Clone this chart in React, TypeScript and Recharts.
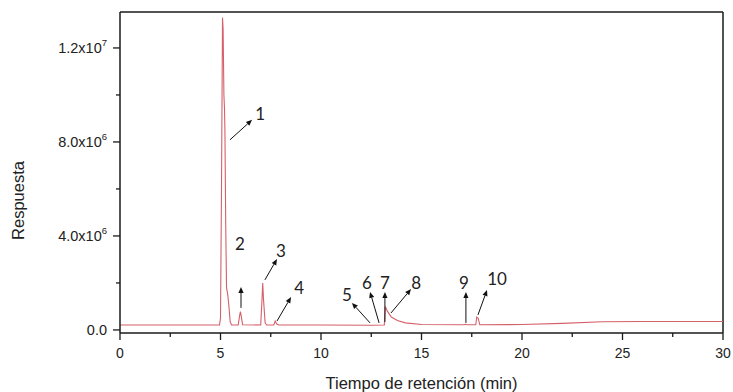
import { LineChart, Line, XAxis, YAxis, ReferenceLine, ReferenceDot } from 'recharts'

// Cromatograma: tiempo (min) vs respuesta
const tiempo = [
  0, 2, 4.95, 5.0, 5.05, 5.1, 5.13, 5.17, 5.2, 5.22, 5.26, 5.3, 5.36, 5.42, 5.48, 5.55,
  5.88, 5.95, 5.99, 6.03, 6.1, 7.0, 7.06, 7.1, 7.14, 7.22, 7.3, 7.65, 7.72, 7.8, 7.9,
  10, 12.5, 13.15, 13.2, 13.3, 13.5, 13.8, 14.2, 15, 17.1, 17.18, 17.25, 17.7, 17.75,
  17.82, 17.9, 20, 22, 24, 26, 30,
]
const respuesta = [
  2.1e5, 2.1e5, 2.1e5, 5.0e5, 6.0e6, 1.33e7, 1.28e7, 1.0e7, 9.4e6, 8.5e6, 4.5e6, 1.8e6, 1.5e6, 1.0e6, 3.5e5, 2.1e5,
  2.1e5, 6.0e5, 7.8e5, 6.0e5, 2.2e5, 2.1e5, 1.2e6, 2.0e6, 1.3e6, 3.0e5, 2.1e5, 2.1e5, 3.8e5, 2.5e5, 2.1e5,
  2.1e5, 2.0e5, 2.1e5, 1.0e6, 8.0e5, 5.5e5, 4.0e5, 3.0e5, 2.3e5, 2.2e5, 2.4e5, 2.2e5, 2.2e5, 5.5e5,
  5.0e5, 2.2e5, 2.3e5, 2.8e5, 3.5e5, 3.6e5, 3.6e5,
]

const xTicks = [0, 2.5, 5, 7.5, 10, 12.5, 15, 17.5, 20, 22.5, 25, 27.5, 30]
const yTicks = [0, 2e6, 4e6, 6e6, 8e6, 1e7, 1.2e7]
const yMajor = [0, 4e6, 8e6, 1.2e7]
const yTickBase = ['0.0', '4.0x10', '8.0x10', '1.2x10']
const yTickExp = ['', '6', '6', '7']

const Y_MIN = -1.3e5
const Y_MAX = 1.353e7

// etiquetas de picos (posición en coordenadas de datos)
const picoNombre = ['1', '2', '3', '4', '5', '6', '7', '8', '9', '10']
const picoX = [6.97, 5.97, 8.01, 8.91, 11.29, 12.29, 13.18, 14.73, 17.11, 18.76]
const picoY = [9.23e6, 3.66e6, 3.4e6, 1.79e6, 1.49e6, 2.04e6, 2.04e6, 2.0e6, 2.0e6, 2.17e6]

// flechas: inicio -> punta
const flechaX1 = [5.47, 6.02, 7.21, 7.81, 12.44, 12.89, 13.18, 13.48, 17.21, 17.81]
const flechaY1 = [8.09e6, 0.94e6, 2.13e6, 0.38e6, 0.3e6, 0.3e6, 0.34e6, 0.72e6, 0.3e6, 0.64e6]
const flechaX2 = [6.57, 6.02, 7.81, 8.51, 11.54, 12.44, 13.18, 14.48, 17.21, 18.26]
const flechaY2 = [8.94e6, 1.83e6, 3.02e6, 1.4e6, 1.15e6, 1.62e6, 1.62e6, 1.74e6, 1.62e6, 1.7e6]

const data = tiempo.map((t, i) => ({ t, r: respuesta[i] }))

const AXIS = '#1a1a1a'
const TEXT = '#222'

const XTick = ({ x, y, payload }: any) => {
  const v = payload.value
  const major = v % 5 === 0
  return (
    <g>
      <line x1={x} x2={x} y1={y} y2={y + (major ? 7 : 4)} stroke={AXIS} strokeWidth={1.3} />
      {major && (
        <text x={x} y={y + 20} textAnchor="middle" dominantBaseline="central" fontFamily="Liberation Sans, Arial" fontSize={14} fill={TEXT}>
          {v}
        </text>
      )}
    </g>
  )
}

const YTick = ({ x, y, payload }: any) => {
  const v = payload.value
  const idx = yMajor.indexOf(v)
  const major = idx >= 0
  return (
    <g>
      <line x1={x} x2={x - (major ? 7 : 4)} y1={y} y2={y} stroke={AXIS} strokeWidth={1.3} />
      {major && (
        <text x={x - 13} y={y + 5} textAnchor="end" fontFamily="Liberation Sans, Arial" fontSize={14.5} fill={TEXT}>
          {yTickBase[idx]}
          {yTickExp[idx] && <tspan dy={-7} fontSize={9.5}>{yTickExp[idx]}</tspan>}
        </text>
      )}
    </g>
  )
}

const Flecha = (props: any) => {
  const { x1, y1, x2, y2 } = props
  const ang = Math.atan2(y2 - y1, x2 - x1)
  const len = 6
  const w = 2.6
  const bx = x2 - len * Math.cos(ang)
  const by = y2 - len * Math.sin(ang)
  const px = -Math.sin(ang) * w
  const py = Math.cos(ang) * w
  return (
    <g>
      <line x1={x1} y1={y1} x2={bx} y2={by} stroke="#111" strokeWidth={1} />
      <polygon points={`${x2},${y2} ${bx + px},${by + py} ${bx - px},${by - py}`} fill="#111" />
    </g>
  )
}

export default function App() {
  return (
    <div style={{ position: 'absolute', left: 0, top: 0, background: '#fff' }}>
      <LineChart width={733} height={392} data={data} margin={{ top: 12, right: 10, left: 0, bottom: 0 }}>
        <XAxis
          dataKey="t"
          type="number"
          domain={[0, 30]}
          ticks={xTicks}
          interval={0}
          tickLine={false}
          tickSize={0}
          tickMargin={0}
          height={59}
          axisLine={{ stroke: AXIS, strokeWidth: 1.5 }}
          tick={<XTick />}
          label={{
            value: 'Tiempo de retención (min)',
            position: 'insideBottom',
            offset: 3,
            style: { fontFamily: 'Liberation Sans, Arial', fontSize: 16.5, fill: TEXT },
          }}
        />
        <YAxis
          type="number"
          domain={[Y_MIN, Y_MAX]}
          ticks={yTicks}
          interval={0}
          allowDataOverflow
          width={120}
          tickLine={false}
          tickSize={0}
          tickMargin={0}
          axisLine={{ stroke: AXIS, strokeWidth: 1.5 }}
          tick={<YTick />}
          label={{
            value: 'Respuesta',
            angle: -90,
            position: 'insideLeft',
            offset: 18,
            dy: 28,
            style: { fontFamily: 'Liberation Sans, Arial', fontSize: 16.5, fill: TEXT, textAnchor: 'middle' },
          }}
        />
        <ReferenceLine y={Y_MAX} stroke={AXIS} strokeWidth={1.5} />
        <ReferenceLine x={30} stroke={AXIS} strokeWidth={1.5} />
        <Line
          dataKey="r"
          type="linear"
          dot={false}
          stroke="#D4606A"
          strokeWidth={1.1}
          isAnimationActive={false}
        />
        {flechaX1.map((x, i) => (
          <ReferenceLine
            key={'f' + i}
            segment={[{ x, y: flechaY1[i] }, { x: flechaX2[i], y: flechaY2[i] }]}
            shape={<Flecha />}
          />
        ))}
        {picoNombre.map((n, i) => (
          <ReferenceDot
            key={'p' + i}
            x={picoX[i]}
            y={picoY[i]}
            r={1}
            shape={(p: any) => (
              <text x={p.cx} y={p.cy} textAnchor="middle" dominantBaseline="central" fontFamily="Lato, Open Sans" fontSize={17} fill={TEXT}>
                {n}
              </text>
            )}
          />
        ))}
      </LineChart>
    </div>
  )
}
